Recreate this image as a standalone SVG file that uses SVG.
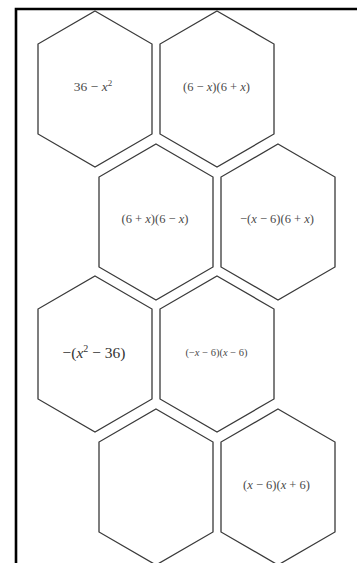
<svg xmlns="http://www.w3.org/2000/svg" width="357" height="563" viewBox="0 0 357 563">
<style>
.hex{fill:#fff;stroke:#3a3a3a;stroke-width:1.3;stroke-linejoin:miter}
.t{fill:#4a4a4a;text-anchor:middle}
.i{font-style:italic}
</style>
<rect width="357" height="563" fill="#fff"/>
<path d="M16,563 V9 H357" fill="none" stroke="#000" stroke-width="2.6"/>
<g id="hex1"><polygon class="hex" points="95,11 152,44 152,134 95,167 38,134 38,44"/>
<text class="t" font-family="Liberation Serif, serif" x="93" y="91" font-size="13.5">36 − <tspan class="i">x</tspan><tspan font-size="9" dy="-5">2</tspan></text></g>
<g id="hex2"><polygon class="hex" points="217,11 274,44 274,134 217,167 160,134 160,44"/>
<text class="t" font-family="Liberation Serif, serif" x="216.5" y="91" font-size="12.5">(6 − <tspan class="i">x</tspan>)(6 + <tspan class="i">x</tspan>)</text></g>
<g id="hex3"><polygon class="hex" points="156,144 213,177 213,267 156,300 99,267 99,177"/>
<text class="t" font-family="Liberation Serif, serif" x="155" y="223" font-size="12.5">(6 + <tspan class="i">x</tspan>)(6 − <tspan class="i">x</tspan>)</text></g>
<g id="hex4"><polygon class="hex" points="278,144 335,177 335,267 278,300 221,267 221,177"/>
<text class="t" font-family="Liberation Serif, serif" x="277" y="223" font-size="12.5">−(<tspan class="i">x</tspan> − 6)(6 + <tspan class="i">x</tspan>)</text></g>
<g id="hex5"><polygon class="hex" points="95,276 152,309 152,399 95,432 38,399 38,309"/>
<text class="t" font-family="Liberation Serif, serif" x="94" y="358" font-size="15.5" style="fill:#333">−(<tspan class="i">x</tspan><tspan font-size="10" dy="-6">2</tspan><tspan dy="6"> − 36)</tspan></text></g>
<g id="hex6"><polygon class="hex" points="217,276 274,309 274,399 217,432 160,399 160,309"/>
<text class="t" font-family="Liberation Serif, serif" x="216.5" y="356" font-size="10.5">(−<tspan class="i">x</tspan> − 6)(<tspan class="i">x</tspan> − 6)</text></g>
<g id="hex7"><polygon class="hex" points="156,409 213,442 213,532 156,565 99,532 99,442"/></g>
<g id="hex8"><polygon class="hex" points="278,409 335,442 335,532 278,565 221,532 221,442"/>
<text class="t" font-family="Liberation Serif, serif" x="276.5" y="489" font-size="12.5">(<tspan class="i">x</tspan> − 6)(<tspan class="i">x</tspan> + 6)</text></g>
<g id="connectors"></g>
</svg>
